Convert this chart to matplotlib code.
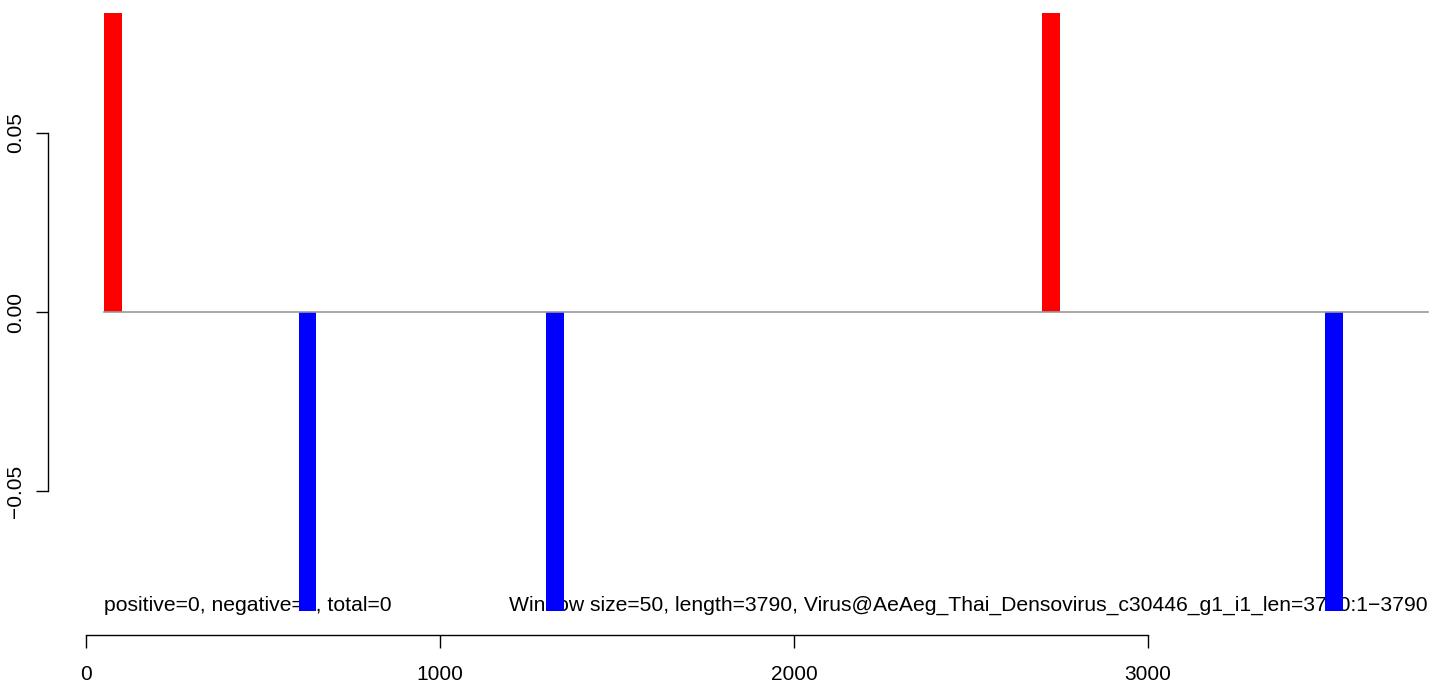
import matplotlib
matplotlib.use("Agg")
import matplotlib.pyplot as plt

plt.rcParams['font.family'] = ['Liberation Sans', 'DejaVu Sans']

# window start positions and coverage values
pos_starts = [50, 2700]
pos_values = [0.0835, 0.0835]
neg_starts = [600, 1300, 3500]
neg_values = [-0.0835, -0.0835, -0.0835]
window = 50
seq_len = 3790

x_ticks = [0, 1000, 2000, 3000]
y_ticks = [-0.05, 0.0, 0.05]
y_ticklabels = ["\u22120.05", "0.00", "0.05"]

left_text = "positive=0, negative=0, total=0"
right_text = ("Window size=50, length=3790, "
              "Virus@AeAeg_Thai_Densovirus_c30446_g1_i1_len=3790:1\u22123790")

W, H = 1429, 682
fig = plt.figure(figsize=(W / 100, H / 100), dpi=100)
ax = fig.add_axes([48 / W, (H - 611) / H, (W - 48) / W, (611 - 13) / H])

ax.set_xlim(-108, 3794)
ax.set_ylim(-0.0835, 0.0835)

ax.text(window, -0.0835, left_text, fontsize=15.25, ha='left', va='baseline', zorder=1)
ax.text(seq_len, -0.0835, right_text, fontsize=15.25, ha='right', va='baseline', zorder=1)

ax.bar(pos_starts, pos_values, width=window, align='edge', color='#ff0000', zorder=2)
ax.bar(neg_starts, neg_values, width=window, align='edge', color='#0000ff', zorder=2)
ax.plot([window, seq_len], [0, 0], color='#999999', lw=1.2, zorder=3)

for s in ['top', 'right']:
    ax.spines[s].set_visible(False)
ax.spines['bottom'].set_position(('outward', 17))
ax.spines['bottom'].set_bounds(x_ticks[0], x_ticks[-1])
ax.spines['left'].set_bounds(y_ticks[0], y_ticks[-1])
for s in ['bottom', 'left']:
    ax.spines[s].set_linewidth(1.0)

ax.set_xticks(x_ticks)
ax.set_xticklabels([str(t) for t in x_ticks])
ax.set_yticks(y_ticks)
ax.set_yticklabels(y_ticklabels, rotation=90, va='center')
ax.tick_params(axis='x', length=9, width=1.0, labelsize=15, pad=13)
ax.tick_params(axis='y', length=9, width=1.0, labelsize=15, pad=7.5)

fig.savefig("out.png", dpi=100)
